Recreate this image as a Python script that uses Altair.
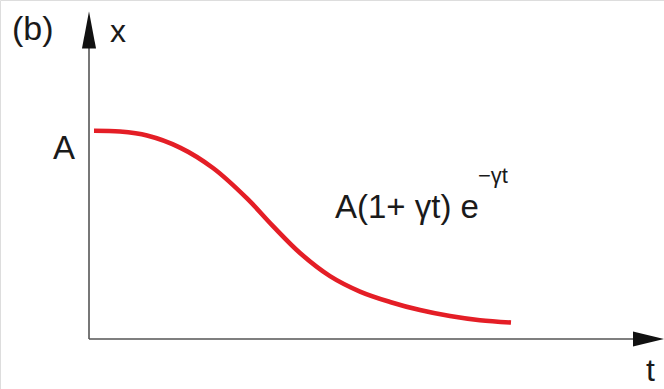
import altair as alt
import pandas as pd

# Displacement of a critically damped oscillator, x(t) = A(1+γt)e^(-γt), with A = 1
curve_t = [0.05, 0.31, 0.58, 0.91, 1.24, 1.58, 1.84, 2.11, 2.41, 2.71, 3.01, 3.31, 3.61, 3.91, 4.22]
curve_x = [1.000, 0.996, 0.977, 0.919, 0.821, 0.675, 0.542, 0.413, 0.302, 0.228, 0.178, 0.139, 0.110, 0.090, 0.079]

# Axis lines (start -> end) and arrowhead centres
axis_t0 = [0.0, 0.0]
axis_x0 = [0.0, 0.0]
axis_t1 = [0.0, 5.44]
axis_x1 = [1.40, 0.0]

# Text labels
label_text = ["(b)", "x", "A", "t", "A(1+ γt) e", "−γt"]
label_t = [-0.77, 0.21, -0.36, 5.57, 2.46, 3.89]
label_x = [1.435, 1.427, 0.863, -0.202, 0.579, 0.749]
label_size = [34, 32, 33, 32, 33, 22]

FONT = "Liberation Sans"
INK = "#1a1a1a"

t_scale = alt.Scale(domain=[-0.89, 5.75], nice=False, zero=False)
x_scale = alt.Scale(domain=[-0.24, 1.6275], nice=False, zero=False)

curve_df = pd.DataFrame({"t": curve_t, "x": curve_x})
axis_df = pd.DataFrame({"t": axis_t0, "x": axis_x0, "t2": axis_t1, "x2": axis_x1})
label_df = pd.DataFrame({"label": label_text, "t": label_t, "x": label_x, "size": label_size})
up_df = pd.DataFrame({"t": [0.0], "x": [1.483]})
right_df = pd.DataFrame({"t": [5.595], "x": [0.0]})

T = alt.X("t:Q", scale=t_scale, axis=None)
X = alt.Y("x:Q", scale=x_scale, axis=None)

axes = alt.Chart(axis_df).mark_rule(color="#555555", strokeWidth=1.6).encode(
    x=T, y=X, x2="t2:Q", y2="x2:Q"
)

up_arrow = alt.Chart(up_df).mark_point(
    shape="M0,-1L0.38,1L-0.38,1Z", size=1369, filled=True, opacity=1, color="#111111"
).encode(x=T, y=X)

right_arrow = alt.Chart(right_df).mark_point(
    shape="M1,0L-1,0.48L-1,-0.48Z", size=961, filled=True, opacity=1, color="#111111"
).encode(x=T, y=X)

curve = alt.Chart(curve_df).mark_line(
    color="#e41e26", strokeWidth=4.6, interpolate="catmull-rom", strokeCap="butt"
).encode(x=T, y=X)

labels = alt.Chart(label_df).mark_text(
    align="left", baseline="alphabetic", font=FONT, color=INK
).encode(
    x=T, y=X, text="label:N", size=alt.Size("size:Q", scale=None, legend=None)
)

chart = (
    alt.layer(axes, curve, up_arrow, right_arrow, labels)
    .properties(width=664, height=389, autosize=alt.AutoSizeParams(type="none"), padding=0)
    .configure_view(stroke=None)
    .configure(background="white")
)

chart.save("out.html", embed_options={"renderer": "svg", "actions": False})
